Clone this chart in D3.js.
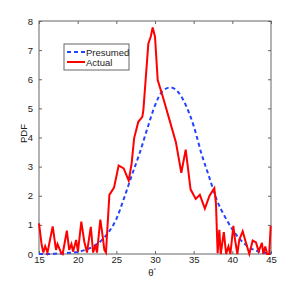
<!DOCTYPE html>
<html>
<head>
<meta charset="utf-8">
<script src="https://cdn.jsdelivr.net/npm/d3@7"></script>
<style>
  body { margin: 0; background: #fff; }
  text { font-family: "Liberation Sans", Arial, sans-serif; }
</style>
</head>
<body>
<div id="chart"></div>
<script>
// actual distribution (red)
var actualX = [15.0, 15.35, 15.56, 15.8, 16.1, 16.77, 17.2, 17.4, 17.85, 18.06, 18.6, 18.9, 19.2, 19.4, 19.8, 20.04,
  20.47, 20.86, 21.2, 21.7, 22.0, 22.3, 22.5, 22.93, 23.24, 23.45, 23.66, 24.1, 24.7, 25.3, 25.95, 26.6, 26.98,
  27.3, 27.84, 28.36, 28.5, 29.14, 29.45, 29.7, 30.0, 30.35, 31.07, 31.9, 32.7, 33.4, 33.97, 34.6, 35.27, 35.8,
  36.45, 37.05, 37.67, 37.88, 38.1, 38.32, 38.5, 38.9, 39.2, 39.5, 39.75, 40.13, 40.35, 40.65, 40.9, 41.34,
  41.77, 42.2, 42.63, 43.06, 43.4, 43.83, 44.0, 44.26, 44.5, 44.77, 44.96];
var actualY = [1.05, 0.3, 0.05, 0.27, 0.05, 0.95, 0.14, 0.34, 0.05, 0.0, 0.8, 0.14, 0.34, 0.08, 0.48, 0.08,
  1.11, 0.42, 0.05, 0.93, 0.05, 0.31, 0.05, 1.18, 0.6, 0.14, 0.05, 2.03, 2.28, 3.04, 2.94, 2.52, 3.11,
  3.97, 4.54, 4.71, 4.95, 7.23, 7.46, 7.78, 7.46, 5.97, 5.35, 4.58, 3.84, 2.79, 3.58, 2.22, 1.89, 2.03,
  1.56, 2.0, 2.26, 1.75, 0.03, 0.83, 0.0, 0.75, 0.0, 0.26, 0.0, 0.97, 0.49, 0.0, 0.49, 0.78,
  0.38, 0.0, 0.46, 0.4, 0.09, 0.38, 0.0, 0.26, 0.0, 0.0, 0.97];

// presumed distribution (blue dashed)
var presumedX = [15, 16, 17, 18, 19, 20, 21, 22, 23, 24, 25, 26, 27, 28, 29, 30, 31, 32, 33, 34, 35, 36,
  37, 38, 39, 40, 41, 42, 43, 44, 45];
var presumedY = [0.0, 0.0, 0.01, 0.02, 0.04, 0.07, 0.14, 0.26, 0.45, 0.75, 1.2, 1.92, 2.7, 3.45, 4.3, 5.1,
  5.6, 5.72, 5.56, 5.1, 4.4, 3.45, 2.65, 1.85, 1.3, 0.85, 0.5, 0.26, 0.12, 0.05, 0.02];

var xTicks = [15, 20, 25, 30, 35, 40, 45];
var yTicks = [0, 1, 2, 3, 4, 5, 6, 7, 8];

var margin = { top: 21, right: 29, bottom: 32, left: 39 },
    width = 300 - margin.left - margin.right,
    height = 286 - margin.top - margin.bottom;

var svg = d3.select("#chart")
    .append("svg")
    .attr("width", 300)
    .attr("height", 286)
    .append("g")
    .attr("transform", "translate(" + margin.left + "," + margin.top + ")");

var x = d3.scaleLinear().domain([15, 45]).range([0, width]);
var y = d3.scaleLinear().domain([0, 8]).range([height, 0]);

// axes with inward ticks, matlab style box
function styleAxis(g) {
    g.select(".domain").remove();
    g.selectAll("line").attr("stroke", "#666");
    g.selectAll("text").attr("fill", "#222").style("font-size", "9.5px");
}
svg.append("g")
    .attr("transform", "translate(0," + height + ")")
    .call(d3.axisBottom(x).tickValues(xTicks).tickSize(-3).tickPadding(2))
    .call(styleAxis);
svg.append("g")
    .call(d3.axisTop(x).tickValues(xTicks).tickSize(-3).tickFormat(""))
    .call(styleAxis);
svg.append("g")
    .call(d3.axisLeft(y).tickValues(yTicks).tickSize(-3).tickPadding(6))
    .call(styleAxis);
svg.append("g")
    .attr("transform", "translate(" + width + ",0)")
    .call(d3.axisRight(y).tickValues(yTicks).tickSize(-3).tickFormat(""))
    .call(styleAxis);

svg.append("rect")
    .attr("width", width)
    .attr("height", height)
    .attr("fill", "none")
    .attr("stroke", "#666")
    .attr("stroke-width", 1);

var line = d3.line()
    .x(function (d) { return x(d[0]); })
    .y(function (d) { return y(d[1]); });

var presumed = presumedX.map(function (v, i) { return [v, presumedY[i]]; });
var actual = actualX.map(function (v, i) { return [v, actualY[i]]; });

svg.append("path")
    .datum(presumed)
    .attr("d", line.curve(d3.curveMonotoneX))
    .attr("fill", "none")
    .attr("stroke", "#2343ff")
    .attr("stroke-width", 2)
    .attr("stroke-dasharray", "4,3");

svg.append("path")
    .datum(actual)
    .attr("d", line.curve(d3.curveLinear))
    .attr("fill", "none")
    .attr("stroke", "#ff0000")
    .attr("stroke-width", 2);

// labels
svg.append("text")
    .attr("transform", "translate(" + (-12) + "," + (height / 2 - 4) + ") rotate(-90)")
    .style("text-anchor", "middle")
    .style("font-size", "9.5px")
    .attr("fill", "#222")
    .text("PDF");

var xl = svg.append("text")
    .attr("x", width / 2 - 3)
    .attr("y", height + 22)
    .style("text-anchor", "middle")
    .style("font-size", "9.5px")
    .attr("fill", "#222");
xl.append("tspan").text("θ");
xl.append("tspan").attr("dy", -4).style("font-size", "6px").text("°");

// legend
var leg = svg.append("g").attr("transform", "translate(25,23)");
leg.append("rect")
    .attr("width", 65)
    .attr("height", 26)
    .attr("fill", "#fff")
    .attr("stroke", "#666");
leg.append("line")
    .attr("x1", 3).attr("x2", 21).attr("y1", 8).attr("y2", 8)
    .attr("stroke", "#2343ff").attr("stroke-width", 2).attr("stroke-dasharray", "4,3");
leg.append("line")
    .attr("x1", 3).attr("x2", 21).attr("y1", 18).attr("y2", 18)
    .attr("stroke", "#ff0000").attr("stroke-width", 2);
leg.append("text").attr("x", 22).attr("y", 11.5).style("font-size", "9.5px").attr("fill", "#222").text("Presumed");
leg.append("text").attr("x", 22).attr("y", 21.5).style("font-size", "9.5px").attr("fill", "#222").text("Actual");
</script>
</body>
</html>
